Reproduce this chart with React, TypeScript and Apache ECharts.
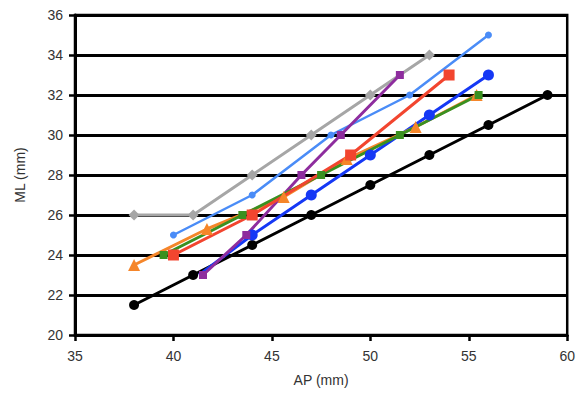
import React, { useEffect, useRef } from "react";
import * as echarts from "echarts";

const xTicks = [35, 40, 45, 50, 55, 60];
const yTicks = [20, 22, 24, 26, 28, 30, 32, 34, 36];

const blackAP = [38, 41, 44, 47, 50, 53, 56, 59];
const blackML = [21.5, 23, 24.5, 26, 27.5, 29, 30.5, 32];

const grayAP = [38, 41, 44, 47, 50, 53];
const grayML = [26, 26, 28, 30, 32, 34];

const lightBlueAP = [40, 44, 48, 52, 56];
const lightBlueML = [25, 27, 30, 32, 35];

const purpleAP = [41.5, 43.7, 46.5, 48.5, 51.5];
const purpleML = [23, 25, 28, 30, 33];

const blueAP = [41.3, 44, 47, 50, 53, 56];
const blueML = [23, 25, 27, 29, 31, 33];

const orangeAP = [38, 41.7, 45.6, 48.8, 52.3, 55.4];
const orangeML = [23.5, 25.3, 26.9, 28.8, 30.4, 32];

const greenAP = [39.5, 43.5, 47.5, 51.5, 55.5];
const greenML = [24, 26, 28, 30, 32];

const redAP = [40, 44, 49, 54];
const redML = [24, 26, 29, 33];

const zip = (a: number[], b: number[]) => a.map((v, i) => [v, b[i]]);

export default function App() {
  const ref = useRef<HTMLDivElement>(null);
  useEffect(() => {
    if (!ref.current) return;
    const chart = echarts.init(ref.current, undefined, { renderer: "svg" });
    const mk = (name: string, ap: number[], ml: number[], color: string, symbol: string, size: number, width = 3) => ({
      name,
      type: "line",
      data: zip(ap, ml),
      symbol,
      symbolSize: size,
      showAllSymbol: true,
      lineStyle: { color, width },
      itemStyle: { color, borderWidth: 0 },
    });
    const blue: any = mk("blue", blueAP, blueML, "#1538f5", "circle", 11);
    blue.data = blue.data.map((d: number[], i: number) => (i === 0 ? { value: d, symbol: "none" } : d));
    chart.setOption({
      animation: false,
      textStyle: { fontFamily: "Liberation Sans, Arial, sans-serif" },
      grid: {
        left: 75,
        right: 9,
        top: 15,
        bottom: 64,
        show: true,
        borderColor: "#000",
        borderWidth: 2.5,
        backgroundColor: "transparent",
      },
      xAxis: {
        type: "value",
        min: 35,
        max: 60,
        interval: 5,
        name: "AP (mm)",
        nameLocation: "middle",
        nameGap: 38,
        nameTextStyle: { fontSize: 14, color: "#333" },
        axisLine: { show: true, lineStyle: { color: "#000", width: 3 } },
        axisTick: { show: true, length: 6, lineStyle: { color: "#000", width: 2.5 } },
        axisLabel: { fontSize: 14, color: "#333", margin: 14 },
        splitLine: { show: false },
      },
      yAxis: {
        type: "value",
        min: 20,
        max: 36,
        interval: 2,
        name: "ML (mm)",
        nameLocation: "middle",
        nameGap: 48,
        nameTextStyle: { fontSize: 14, color: "#333" },
        axisLine: { show: true, lineStyle: { color: "#000", width: 3 } },
        axisTick: { show: true, length: 6, lineStyle: { color: "#000", width: 2.5 } },
        axisLabel: { fontSize: 14, color: "#333", margin: 12 },
        splitLine: { show: true, lineStyle: { color: "#000", width: 3 } },
      },
      series: [
        mk("black", blackAP, blackML, "#000000", "circle", 10),
        mk("gray", grayAP, grayML, "#a6a6a6", "diamond", 11),
        mk("lightblue", lightBlueAP, lightBlueML, "#4a8cf7", "circle", 7, 2.5),
        blue,
        mk("purple", purpleAP, purpleML, "#8e2d9e", "rect", 8),
        mk("orange", orangeAP, orangeML, "#f5862a", "triangle", 12),
        mk("green", greenAP, greenML, "#3a9020", "rect", 8),
        mk("red", redAP, redML, "#f2452f", "rect", 11),
      ],
    });
    return () => chart.dispose();
  }, []);
  return (
    <div
      ref={ref}
      style={{ position: "absolute", left: 0, top: 0, width: 578, height: 399, background: "#fff" }}
    />
  );
}
